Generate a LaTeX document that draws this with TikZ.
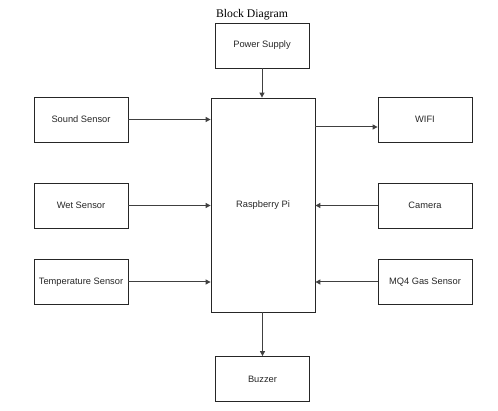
\documentclass[tikz,border=0pt]{standalone}
\usepackage{fontspec}
\setmainfont{Liberation Serif}
\setsansfont{Liberation Sans}
\usetikzlibrary{arrows.meta}
\begin{document}
\begin{tikzpicture}[x=1pt,y=-1pt,
  blk/.style={draw=black!85,line width=0.8pt,inner sep=0pt,font=\sffamily\fontsize{9.3}{11}\selectfont,text=black!85},
  arr/.style={draw=black!75,line width=1pt,-{Triangle[length=5pt,width=5pt]}}]
\useasboundingbox (0,0) rectangle (498,411);
\node[font=\fontsize{11.7}{13}\selectfont] (title) at (252,14.5) {Block Diagram};
\node[blk,minimum width=94pt,minimum height=45pt] (ps) at (262,45.5) {Power Supply};
\node[blk,minimum width=104pt,minimum height=214pt] (pi) at (263,205) {Raspberry Pi};
\node[blk,minimum width=94pt,minimum height=45pt] (sound) at (81,119.5) {Sound Sensor};
\node[blk,minimum width=94pt,minimum height=45pt] (wet) at (81,205.5) {Wet Sensor};
\node[blk,minimum width=94pt,minimum height=45pt] (temp) at (81,282) {Temperature Sensor};
\node[blk,minimum width=94pt,minimum height=45pt] (wifi) at (425,119.5) {WIFI};
\node[blk,minimum width=94pt,minimum height=45pt] (cam) at (425,205.5) {Camera};
\node[blk,minimum width=94pt,minimum height=45pt] (mq) at (425,282) {MQ4 Gas Sensor};
\node[blk,minimum width=94pt,minimum height=45pt] (buz) at (262.5,379) {Buzzer};
\coordinate (wy) at (0,127);
\draw[arr] (ps.south) -- (ps.south |- pi.north);
\draw[arr] (sound.east) -- (sound.east -| pi.west);
\draw[arr] (wet.east) -- (wet.east -| pi.west);
\draw[arr] (temp.east) -- (temp.east -| pi.west);
\draw[arr] (pi.east |- wy) -- (wifi.west |- wy);
\draw[arr] (cam.west) -- (cam.west -| pi.east);
\draw[arr] (mq.west) -- (mq.west -| pi.east);
\draw[arr] (pi.south -| buz.north) -- (buz.north);
\end{tikzpicture}
\end{document}
